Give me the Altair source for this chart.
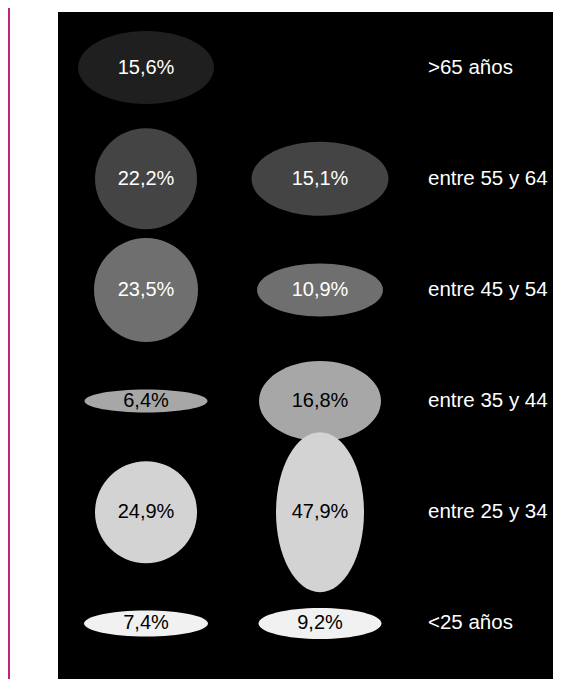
import altair as alt
import pandas as pd

# --- data -------------------------------------------------------------
edades = [">65 años", "entre 55 y 64", "entre 45 y 54",
          "entre 35 y 44", "entre 25 y 34", "<25 años"]
serie_1 = [15.6, 22.2, 23.5, 6.4, 24.9, 7.4]
serie_2 = [None, 15.1, 10.9, 16.8, 47.9, 9.2]

# ellipse dimensions (design, px): width / height
ancho_1 = [136, 102, 104, 123, 102, 124]
alto_1 = [73, 101, 104, 23, 102, 26]
ancho_2 = [None, 137, 126, 122, 88, 123]
alto_2 = [None, 74, 53, 80, 160, 31]

grises = ["#1f1f1f", "#444444", "#6f6f6f", "#a7a7a7", "#d3d3d3", "#f1f1f1"]
filas_oscuras = edades[:3]


def elipse(r):
    k = 0.5523
    return (f"M -1 0 C -1 {-k*r:.4f} {-k:.4f} {-r:.4f} 0 {-r:.4f} "
            f"C {k:.4f} {-r:.4f} 1 {-k*r:.4f} 1 0 "
            f"C 1 {k*r:.4f} {k:.4f} {r:.4f} 0 {r:.4f} "
            f"C {-k:.4f} {r:.4f} -1 {k*r:.4f} -1 0 Z")


rows = []
for serie, vals, an, al in (("s1", serie_1, ancho_1, alto_1),
                            ("s2", serie_2, ancho_2, alto_2)):
    for e, v, w, h in zip(edades, vals, an, al):
        if v is None:
            continue
        rows.append({
            "edad": e,
            "serie": serie,
            "valor": v,
            "texto": f"{v:.1f}".replace(".", ",") + "%",
            "forma": elipse(h / w),
            "tam": w * w,
        })
df = pd.DataFrame(rows)
df_lab = pd.DataFrame({"edad": edades})

W, H = 495, 667

y_enc = alt.Y("edad:N", sort=edades, axis=None,
              scale=alt.Scale(domain=edades))
x_enc = alt.X("serie:N", axis=None,
              scale=alt.Scale(domain=["s1", "s2"], range=[88, 262], padding=0))

elipses = alt.Chart(df).mark_point(filled=True, opacity=1, strokeWidth=0).encode(
    x=x_enc,
    y=y_enc,
    shape=alt.Shape("forma:N", scale=None),
    size=alt.Size("tam:Q", scale=None),
    color=alt.Color("edad:N", scale=alt.Scale(domain=edades, range=grises), legend=None),
)

porcentajes = alt.Chart(df).mark_text(
    font="Liberation Sans", fontSize=20, baseline="middle", align="center"
).encode(
    x=x_enc,
    y=y_enc,
    text="texto:N",
    color=alt.condition(alt.FieldOneOfPredicate(field="edad", oneOf=filas_oscuras),
                        alt.value("#ffffff"), alt.value("#000000")),
)

etiquetas = alt.Chart(df_lab).mark_text(
    font="Liberation Sans", fontSize=20.5, baseline="middle", align="left", color="#ffffff"
).encode(
    x=alt.value(370),
    y=y_enc,
    text="edad:N",
)

linea = alt.Chart(df_lab.head(1)).mark_rule(color="#b8287f", strokeWidth=2).encode(
    x=alt.value(-49), y=alt.value(-4), y2=alt.value(H)
)

chart = alt.layer(linea, elipses, porcentajes, etiquetas).properties(
    width=W, height=H,
    padding={"left": 50, "top": 4, "right": 0, "bottom": 0},
    autosize=alt.AutoSizeParams(type="none"),
    background="#ffffff",
).configure_view(fill="#000000", strokeWidth=0)

chart.save("out.html", embed_options={"renderer": "svg", "actions": False})
